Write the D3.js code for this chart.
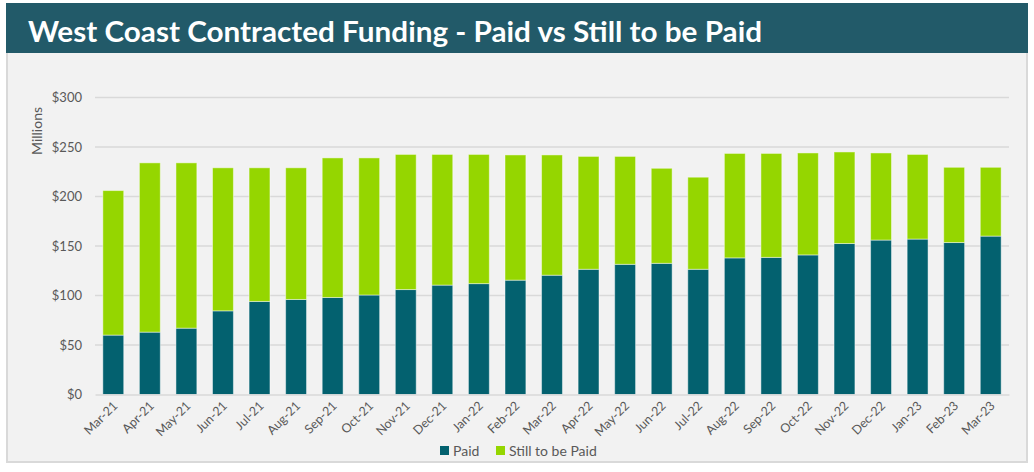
<!DOCTYPE html>
<html>
<head>
<meta charset="utf-8">
<script src="https://cdn.jsdelivr.net/npm/d3@7"></script>
<style>
  html, body { margin: 0; padding: 0; background: #ffffff; }
  svg { display: block; }
</style>
</head>
<body>
<svg id="chart" width="1034" height="472"></svg>
<script>
// Monthly contracted funding, $ millions
const months = ["Mar-21","Apr-21","May-21","Jun-21","Jul-21","Aug-21","Sep-21","Oct-21","Nov-21","Dec-21",
  "Jan-22","Feb-22","Mar-22","Apr-22","May-22","Jun-22","Jul-22","Aug-22","Sep-22","Oct-22","Nov-22",
  "Dec-22","Jan-23","Feb-23","Mar-23"];
const paid = [60, 63, 67, 84.5, 94, 96, 98, 100.5, 106, 110.5, 112, 115.5, 120.5, 126.5, 131.5, 132.5,
  126.5, 138, 138.5, 141, 152.5, 156, 157, 153.5, 160];
const stillToBePaid = [146, 171, 167, 144.5, 135, 133, 141, 138.5, 136.5, 132, 130.5, 126.5, 121.5, 114,
  109, 96, 93, 105.5, 105, 103, 92.5, 88, 85.5, 76, 69.5];
const yTicks = [0, 50, 100, 150, 200, 250, 300];
const seriesNames = ["Paid", "Still to be Paid"];
const seriesColors = ["#03616f", "#95d600"];
const title = "West Coast Contracted Funding - Paid vs Still to be Paid";

const svg = d3.select("#chart");
const font = "Lato, 'Open Sans', sans-serif";

// Panel and title bar
svg.append("rect").attr("x", 7).attr("y", 4).attr("width", 1020).attr("height", 458)
  .attr("fill", "#f2f2f2").attr("stroke", "#d9d9d9").attr("stroke-width", 2);
svg.append("rect").attr("x", 6).attr("y", 3).attr("width", 1022).attr("height", 50)
  .attr("fill", "#225a69");
svg.append("text").attr("x", 28).attr("y", 42)
  .attr("fill", "#ffffff").attr("font-family", font).attr("font-weight", 700)
  .attr("font-size", 29).attr("textLength", 734).attr("lengthAdjust", "spacingAndGlyphs")
  .text(title);

// Plot area
const plotLeft = 95, plotRight = 1009, plotTop = 97.5, plotBottom = 394.5;
const x = d3.scaleBand().domain(months).range([plotLeft, plotRight])
  .paddingInner(0.4286).paddingOuter(0.2143);
const y = d3.scaleLinear().domain([0, 300]).range([plotBottom, plotTop]);

const stackData = months.map((m, i) => ({ month: m, paid: paid[i], still: stillToBePaid[i] }));
const stacked = d3.stack().keys(["paid", "still"])(stackData);

// Gridlines
svg.append("g").selectAll("line").data(yTicks.filter(t => t > 0)).join("line")
  .attr("x1", plotLeft).attr("x2", plotRight)
  .attr("y1", d => y(d)).attr("y2", d => y(d))
  .attr("stroke", "#d9d9d9").attr("stroke-width", 1.5);

// Y axis labels
const yAxis = svg.append("g").attr("transform", `translate(${plotLeft},0)`)
  .call(d3.axisLeft(y).tickValues(yTicks).tickSize(0).tickPadding(13).tickFormat(d => "$" + d));
yAxis.select(".domain").remove();
yAxis.selectAll("text").attr("font-family", font).attr("font-size", 13).attr("fill", "#595959");

svg.append("text")
  .attr("transform", `translate(42,131) rotate(-90)`)
  .attr("text-anchor", "middle").attr("font-family", font).attr("font-size", 14)
  .attr("fill", "#595959").text("Millions");

// Stacked bars
svg.append("g").selectAll("g").data(stacked).join("g")
  .attr("fill", (d, i) => seriesColors[i])
  .selectAll("rect").data(d => d).join("rect")
  .attr("x", d => x(d.data.month))
  .attr("width", x.bandwidth())
  .attr("y", d => y(d[1]))
  .attr("height", d => y(d[0]) - y(d[1]))
  .attr("stroke", "rgba(255,255,255,0.45)").attr("stroke-width", 1);

// X axis
const xAxis = svg.append("g").attr("transform", `translate(0,${plotBottom})`)
  .call(d3.axisBottom(x).tickSize(0).tickPadding(0));
xAxis.select(".domain").attr("stroke", "#d9d9d9").attr("stroke-width", 1.5);
xAxis.selectAll("text")
  .attr("font-family", font).attr("font-size", 12.5).attr("fill", "#595959")
  .attr("text-anchor", "end").attr("dy", 0)
  .attr("transform", "translate(5,12) rotate(-45)");

// Legend
const legendItems = [
  { name: seriesNames[0], color: seriesColors[0], x: 440 },
  { name: seriesNames[1], color: seriesColors[1], x: 496 }
];
const lg = svg.append("g").selectAll("g").data(legendItems).join("g")
  .attr("transform", d => `translate(${d.x},446)`);
lg.append("rect").attr("width", 9).attr("height", 9).attr("fill", d => d.color);
lg.append("text").attr("x", 13).attr("y", 9.5)
  .attr("font-family", font).attr("font-size", 14).attr("fill", "#595959")
  .text(d => d.name);
</script>
</body>
</html>
